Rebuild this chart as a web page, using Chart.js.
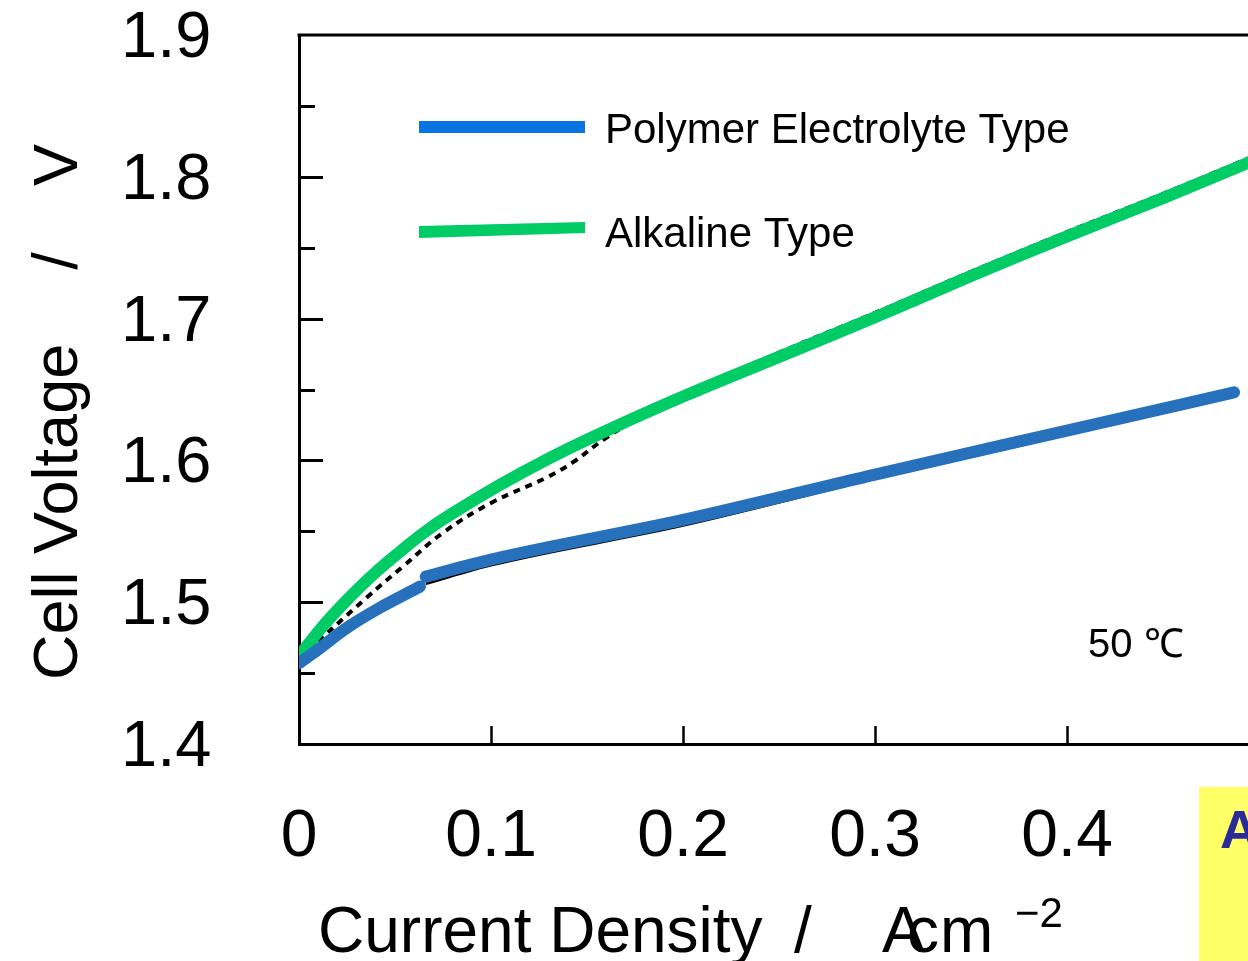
<!DOCTYPE html>
<html>
<head>
<meta charset="utf-8">
<script src="https://cdn.jsdelivr.net/npm/chart.js@4.4.1/dist/chart.umd.min.js"></script>
<style>
  html, body { margin: 0; padding: 0; background: #fff; overflow: hidden; }
  #wrap { width: 1300px; height: 961px; }
</style>
</head>
<body>
<div id="wrap"><canvas id="cellChart" width="1300" height="961"></canvas></div>
<script>
// current density (A cm^-2) vs cell voltage (V)
// the polymer curve has a small step near 0.064, so a null splits it there
const polymerX = [0, 0.0073, 0.025, 0.042, 0.063, 0.064, 0.066, 0.1, 0.2, 0.3, 0.4, 0.487];
const polymerY = [1.457, 1.464, 1.482, 1.496, 1.511, null, 1.518, 1.530, 1.558, 1.590, 1.621, 1.648];
const alkalineX = [0, 0.013, 0.026, 0.039, 0.052, 0.065, 0.078, 0.105, 0.131, 0.157, 0.2, 0.25, 0.3, 0.35, 0.4, 0.45, 0.5];
const alkalineY = [1.462, 1.484, 1.503, 1.520, 1.535, 1.549, 1.561, 1.583, 1.602, 1.619, 1.645, 1.673, 1.701, 1.730, 1.758, 1.785, 1.813];
// thin black traces lying under the coloured curves
const polymerRefX = [0.066, 0.1, 0.2, 0.3, 0.4, 0.487];
const polymerRefY = [1.513, 1.526, 1.554, 1.587, 1.618, 1.645];
const alkalineRefX = [0, 0.035, 0.054, 0.075, 0.1, 0.129, 0.143, 0.16, 0.18, 0.2, 0.25, 0.3, 0.35, 0.4, 0.45, 0.5];
const alkalineRefY = [1.460, 1.503, 1.525, 1.549, 1.570, 1.588, 1.599, 1.616, 1.632, 1.646, 1.676, 1.704, 1.733, 1.761, 1.788, 1.816];

const seriesNames = ['Polymer Electrolyte Type', 'Alkaline Type'];
const xTickValues = [0, 0.1, 0.2, 0.3, 0.4];
const yTickValues = [1.4, 1.45, 1.5, 1.55, 1.6, 1.65, 1.7, 1.75, 1.8, 1.85, 1.9];
const yLabelled = [1.4, 1.5, 1.6, 1.7, 1.8, 1.9];

const FONT = '"Liberation Sans", Arial, Helvetica, sans-serif';
Chart.defaults.font.family = FONT;
Chart.defaults.color = '#000';

const toPoints = (xs, ys) => xs.map((x, i) => ({ x, y: ys[i] }));
const isLabelled = v => yLabelled.some(l => Math.abs(l - v) < 1e-6);

// inward ticks, top frame, legend and the text around the plot
const decor = {
  id: 'decor',
  afterDraw(chart) {
    const ctx = chart.ctx;
    const a = chart.chartArea;
    const xs = chart.scales.x, ys = chart.scales.y;
    ctx.save();
    ctx.strokeStyle = '#000';
    ctx.lineWidth = 3;
    ctx.beginPath();
    ctx.moveTo(a.left - 1.5, a.top);
    ctx.lineTo(a.right, a.top);
    ctx.stroke();

    yTickValues.forEach(v => {
      if (v <= 1.4 || v >= 1.9) return;
      const py = Math.round(ys.getPixelForValue(v)) + 0.5;
      const len = isLabelled(v) ? 24 : 16;
      ctx.beginPath();
      ctx.moveTo(a.left, py);
      ctx.lineTo(a.left + len, py);
      ctx.stroke();
    });
    ctx.lineWidth = 2.5;
    xTickValues.forEach(v => {
      if (v <= 0) return;
      const px = Math.round(xs.getPixelForValue(v)) + 0.5;
      ctx.beginPath();
      ctx.moveTo(px, a.bottom);
      ctx.lineTo(px, a.bottom - 18);
      ctx.stroke();
    });

    // legend
    ctx.fillStyle = '#0A74E2';
    ctx.fillRect(419, 121, 166, 12);
    ctx.fillStyle = '#00CC66';
    ctx.beginPath();
    ctx.moveTo(419, 226); ctx.lineTo(585, 222); ctx.lineTo(585, 233); ctx.lineTo(419, 238);
    ctx.closePath();
    ctx.fill();
    ctx.fillStyle = '#000';
    ctx.font = '42px ' + FONT;
    ctx.textAlign = 'left';
    ctx.textBaseline = 'alphabetic';
    ctx.fillText(seriesNames[0], 605, 143);
    ctx.fillText(seriesNames[1], 605, 247);

    ctx.font = '40px ' + FONT;
    ctx.fillText('50 ℃', 1088, 657);

    // y axis title
    ctx.save();
    ctx.translate(77, 680);
    ctx.rotate(-Math.PI / 2);
    ctx.font = '63px ' + FONT;
    ctx.textAlign = 'left';
    ctx.fillText('Cell Voltage', 0, 0);
    ctx.textAlign = 'center';
    ctx.fillText('/', 419, 0);
    ctx.fillText('V', 515, 0);
    ctx.restore();

    // x axis title
    ctx.font = '64px ' + FONT;
    ctx.textAlign = 'left';
    ctx.fillText('Current Density', 318, 952);
    ctx.textAlign = 'center';
    ctx.fillText('/', 803, 952);
    ctx.textAlign = 'left';
    ctx.fillText('A', 882, 952);
    ctx.fillText('c', 907, 952);
    ctx.fillText('m', 940, 952);
    ctx.font = '42px ' + FONT;
    ctx.fillText('\u22122', 1015, 927);

    // yellow note box at the lower right
    ctx.fillStyle = '#FFFF66';
    ctx.fillRect(1199, 787, 200, 200);
    ctx.fillStyle = '#2A2A9A';
    ctx.font = 'bold 54px ' + FONT;
    ctx.fillText('A', 1220, 848);
    ctx.restore();
  }
};

new Chart(document.getElementById('cellChart').getContext('2d'), {
  type: 'line',
  data: {
    datasets: [
      {
        label: seriesNames[0],
        data: toPoints(polymerX, polymerY),
        borderColor: '#2770BC',
        borderWidth: 12,
        pointRadius: 0,
        spanGaps: false,
        cubicInterpolationMode: 'monotone',
        borderCapStyle: 'round',
        borderJoinStyle: 'round',
        order: 0
      },
      {
        label: seriesNames[1],
        data: toPoints(alkalineX, alkalineY),
        borderColor: '#00CC66',
        borderWidth: 12,
        pointRadius: 0,
        tension: 0.4,
        order: 0
      },
      {
        label: 'polymer ref',
        data: toPoints(polymerRefX, polymerRefY),
        borderColor: '#000',
        borderWidth: 2.5,
        pointRadius: 0,
        cubicInterpolationMode: 'monotone',
        order: 1
      },
      {
        label: 'alkaline ref',
        data: toPoints(alkalineRefX, alkalineRefY),
        borderColor: '#000',
        borderWidth: 4,
        borderDash: [7, 6],
        pointRadius: 0,
        tension: 0.4,
        order: 1
      }
    ]
  },
  options: {
    responsive: false,
    animation: false,
    layout: { padding: { top: 35, right: 41, left: 121, bottom: 0 } },
    plugins: {
      legend: { display: false },
      tooltip: { enabled: false }
    },
    scales: {
      x: {
        type: 'linear',
        min: 0,
        max: 0.5,
        afterBuildTicks: s => { s.ticks = xTickValues.map(v => ({ value: v })); },
        afterFit: s => { s.height = 217; },
        ticks: {
          font: { size: 66 },
          color: '#000',
          padding: 54,
          maxRotation: 0,
          autoSkip: false,
          callback: v => (v === 0 ? '0' : Number(v).toFixed(1))
        },
        grid: { display: false, drawTicks: false },
        border: { color: '#000', width: 3 }
      },
      y: {
        type: 'linear',
        min: 1.4,
        max: 1.9,
        afterBuildTicks: s => { s.ticks = yTickValues.map(v => ({ value: v })); },
        afterFit: s => { s.width = 178; },
        ticks: {
          font: { size: 65, lineHeight: 1 },
          color: '#000',
          padding: 0,
          labelOffset: 4,
          crossAlign: 'far',
          autoSkip: false,
          callback: v => (isLabelled(v) ? Number(v).toFixed(1) : '')
        },
        grid: { display: false, drawTicks: false },
        border: { color: '#000', width: 3 }
      }
    }
  },
  plugins: [decor]
});
</script>
</body>
</html>
